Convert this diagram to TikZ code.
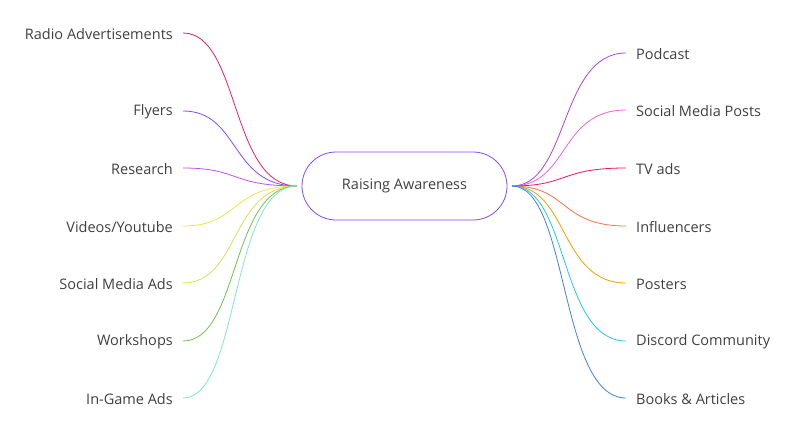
\documentclass[tikz,border=0pt]{standalone}
\usepackage{fontspec}
\setmainfont{Open Sans}
\begin{document}
\begin{tikzpicture}[x=1pt,y=-1pt,
  lbl/.style={font=\fontsize{14.5}{16}\selectfont, text=black!75, inner sep=0pt},
  br/.style={line width=0.8pt}]
\useasboundingbox (0,0) rectangle (809,445);
\node[draw={rgb,255:red,124;green,77;blue,255}, line width=0.8pt, rounded corners=34pt,
  minimum width=205pt, minimum height=68pt, lbl] (c) at (404.5,186) {Raising Awareness};
\coordinate (cl) at (297,186);
\coordinate (cr) at (512,186);
\foreach \n/\y/\t/\col in {l1/33/Radio Advertisements/E91E63, l2/111/Flyers/7C4DFF, l3/168/Research/C050F0, l4/226/Videos\slash Youtube/E8E840, l5/283/Social Media Ads/D4E157, l6/341/Workshops/6CC644, l7/398/In-Game Ads/7EE8C8}{
  \definecolor{cc}{HTML}{\col}
  \coordinate (\n e) at (183,\y);
  \node[lbl, anchor=east] (\n) at (173,\y+1) {\t};
  \draw[br,cc] (cl) .. controls (230,186) and (240,\y) .. (\n e);
}
\foreach \n/\y/\t/\col in {r1/53/Podcast/B040E0, r2/110/Social Media Posts/F060E0, r3/168/TV ads/F0106E, r4/226/Influencers/FF7043, r5/283/Posters/F0A000, r6/341/Discord Community/20C8E8, r7/398/Books \& Articles/4080F0}{
  \definecolor{cc}{HTML}{\col}
  \coordinate (\n e) at (626,\y);
  \node[lbl, anchor=west] (\n) at (636,\y+1) {\t};
  \draw[br,cc] (cr) .. controls (569,186) and (559,\y) .. (\n e);
}
\end{tikzpicture}
\end{document}
